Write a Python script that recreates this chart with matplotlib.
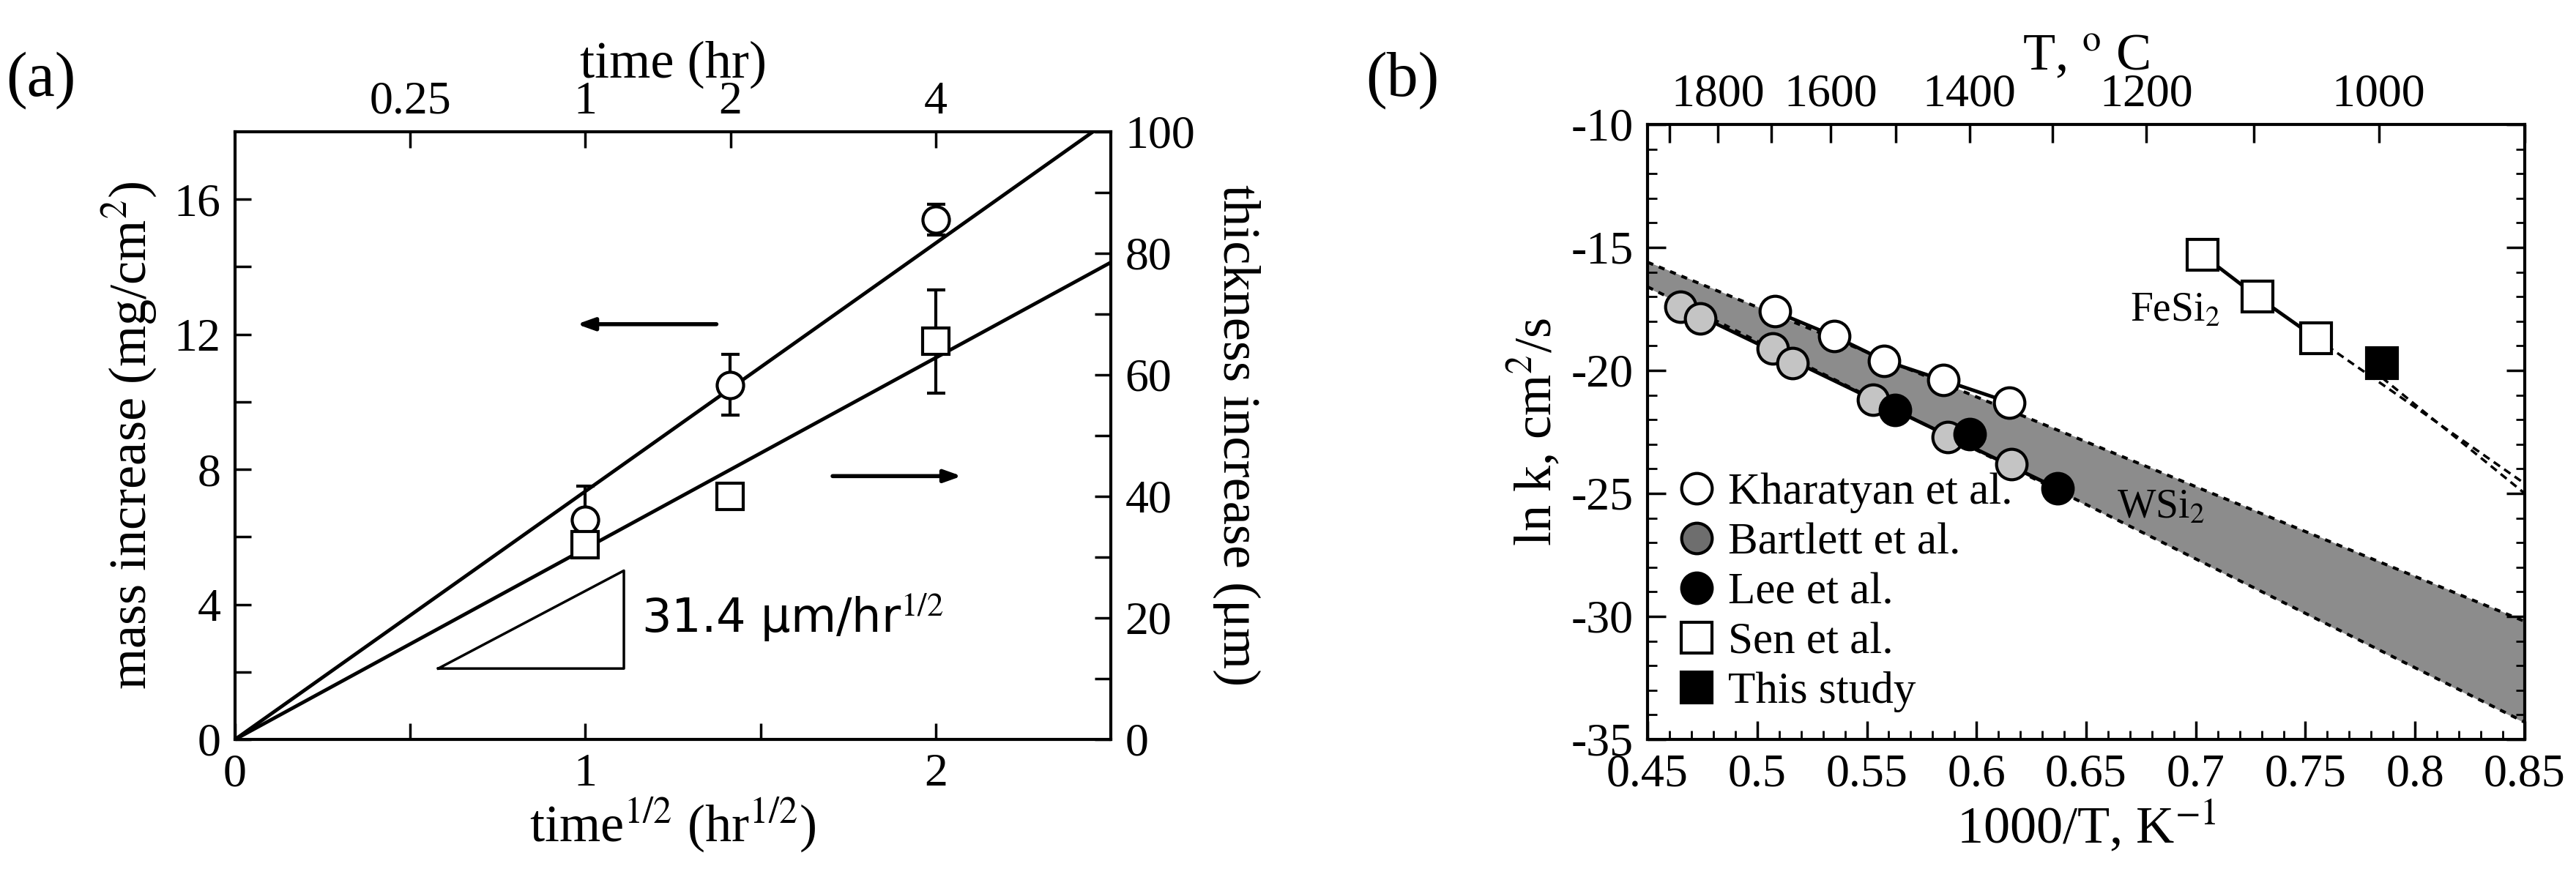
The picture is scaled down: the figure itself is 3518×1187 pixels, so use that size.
import numpy as np
import matplotlib.pyplot as plt

plt.rcParams["font.family"] = ["Liberation Serif", "DejaVu Serif"]
plt.rcParams["mathtext.fontset"] = "stix"
plt.rcParams["axes.unicode_minus"] = False

# ---- panel (a) data ----
mass_x = [1.0, 1.414, 2.0]
mass_y = [6.5, 10.5, 15.4]
mass_err = [1.0, 0.9, 0.45]
thick_x = [1.0, 1.414, 2.0]
thick_y = [32.0, 40.0, 65.5]
thick_err = [0.0, 0.0, 8.5]
mass_slope = 7.35
thick_slope = 31.4
top_ticks_hr = [0.25, 1, 2, 4]

# ---- panel (b) data ----
khar_x = [0.508, 0.535, 0.558, 0.585, 0.615]
khar_y = [-17.6, -18.6, -19.6, -20.4, -21.3]
gray_x = [0.465, 0.474, 0.507, 0.516, 0.553, 0.587, 0.616]
gray_y = [-17.4, -17.9, -19.1, -19.7, -21.2, -22.7, -23.8]
lee_x = [0.563, 0.597, 0.637]
lee_y = [-21.6, -22.6, -24.8]
sen_x = [0.703, 0.728, 0.755]
sen_y = [-15.3, -17.0, -18.7]
this_x = [0.785]
this_y = [-19.7]
band_x = [0.45, 0.85]
band_hi = [-15.6, -30.2]
band_lo = [-16.6, -34.3]
top_T = [1800, 1600, 1400, 1200, 1000]
top_T_minor = [1900, 1700, 1500, 1300, 1100, 900]

fig = plt.figure(figsize=(35.18, 11.87), dpi=100)
fs_tick = 46
fs_lab = 52
lw = 3.5

# ================= (a) =================
ax = fig.add_axes([321 / 3518, 1 - 1010 / 1187, (1517 - 321) / 3518, (1010 - 180) / 1187])
ax.set_xlim(0, 2.5)
ax.set_ylim(0, 18)
xx = np.array([0, 2.5])
ax.plot(xx, mass_slope * xx, color="black", lw=lw)
ax.errorbar(mass_x, mass_y, yerr=mass_err, fmt="o", ms=26, mfc="white", mec="black",
            mew=3, ecolor="black", elinewidth=3, capsize=9)
ax.set_xticks([0, 1, 2])
ax.set_xticks([0.5, 1.5], minor=True)
ax.set_yticks([0, 4, 8, 12, 16])
ax.set_yticks([2, 6, 10, 14], minor=True)
ax.tick_params(labelsize=fs_tick, direction="in", length=16, width=2.5, top=False, pad=14)
ax.tick_params(which="minor", direction="in", length=16, width=2.5)
ax.set_xlabel("time$^{1/2}$ (hr$^{1/2}$)", fontsize=fs_lab, labelpad=0)
ax.set_ylabel("mass increase (mg/cm$^2$)", fontsize=fs_lab, labelpad=14)
for s in ax.spines.values():
    s.set_linewidth(3)

ax2 = ax.twinx()
ax2.set_ylim(0, 100)
ax2.plot(xx, thick_slope * xx, color="black", lw=lw)
ax2.errorbar(thick_x, thick_y, yerr=thick_err, fmt="s", ms=26, mfc="white", mec="black",
             mew=3, ecolor="black", elinewidth=3, capsize=9)
ax2.set_yticks([0, 20, 40, 60, 80, 100])
ax2.set_yticks([10, 30, 50, 70, 90], minor=True)
ax2.tick_params(labelsize=fs_tick, direction="in", length=16, width=2.5, pad=14)
ax2.tick_params(which="minor", direction="in", length=16, width=2.5)
ax2.set_ylabel("thickness increase (μm)", fontsize=fs_lab, rotation=270, labelpad=64)

ax3 = ax.twiny()
ax3.set_xlim(0, 2.5)
ax3.set_xticks(np.sqrt(top_ticks_hr))
ax3.set_xticklabels(["0.25", "1", "2", "4"])
ax3.tick_params(labelsize=fs_tick, direction="in", length=16, width=2.5, pad=8)
ax3.set_xlabel("time (hr)", fontsize=fs_lab, labelpad=4)

# slope triangle and arrows
ax.plot([0.58, 1.11, 1.11, 0.58], [2.1, 2.1, 5.0, 2.1], color="black", lw=2.5)
ax.text(1.16, 3.6, "31.4 μm/hr$^{1/2}$", fontsize=fs_tick, family="DejaVu Sans", va="center")
ax.annotate("", xy=(0.97, 12.3), xytext=(1.38, 12.3),
            arrowprops=dict(arrowstyle="-|>,head_length=1.4,head_width=0.5", color="black", lw=4))
ax.annotate("", xy=(2.08, 7.8), xytext=(1.7, 7.8),
            arrowprops=dict(arrowstyle="-|>,head_length=1.4,head_width=0.5", color="black", lw=4))
fig.text(8 / 3518, 1 - 110 / 1187, "(a)", fontsize=62, va="center")

# ================= (b) =================
bx = fig.add_axes([2250 / 3518, 1 - 1010 / 1187, (3448 - 2250) / 3518, (1010 - 170) / 1187])
bx.set_xlim(0.45, 0.85)
bx.set_ylim(-35, -10)
bx.fill_between(band_x, band_lo, band_hi, color="#8c8c8c", zorder=1)
bx.plot(band_x, band_hi, color="black", ls=(0, (2, 2)), lw=3, zorder=2)
bx.plot(band_x, band_lo, color="black", ls=(0, (2, 2)), lw=3, zorder=2)
bx.plot(khar_x, khar_y, "-", color="black", lw=lw, zorder=3)
bx.plot([gray_x[0], lee_x[-1]], [gray_y[0], lee_y[-1]], "-", color="black", lw=lw, zorder=3)
bx.plot(khar_x, khar_y, "o", ms=30, mfc="white", mec="black", mew=3, zorder=4,
        label="Kharatyan et al.")
bx.plot(gray_x, gray_y, "o", ms=30, mfc="#c4c4c4", mec="black", mew=3, zorder=4)
bx.plot([], [], "o", ms=30, mfc="#6e6e6e", mec="black", mew=3, label="Bartlett et al.")
bx.plot(lee_x, lee_y, "o", ms=30, mfc="black", mec="black", mew=3, zorder=5, label="Lee et al.")
bx.plot(sen_x, sen_y, "-", color="black", lw=lw, zorder=3)
bx.plot([sen_x[-1], 0.85], [sen_y[-1], -24.6], color="black", ls=(0, (3, 2)), lw=2.5, zorder=3)
bx.plot([this_x[0], 0.85], [-20.3, -25.0], color="black", ls=(0, (3, 2)), lw=2.5, zorder=3)
bx.plot(sen_x, sen_y, "s", ms=30, mfc="white", mec="black", mew=3, zorder=4, label="Sen et al.")
bx.plot(this_x, this_y, "s", ms=30, mfc="black", mec="black", mew=3, zorder=4, label="This study")
bx.text(0.67, -18.0, "FeSi$_2$", fontsize=40)
bx.text(0.664, -26.0, "WSi$_2$", fontsize=40)
leg = bx.legend(loc="lower left", fontsize=44, frameon=False, handletextpad=0.2,
                labelspacing=0.2, borderaxespad=0.2, handlelength=1.0)

bx.set_xticks(np.arange(0.45, 0.851, 0.05))
bx.set_xticklabels(["0.45", "0.5", "0.55", "0.6", "0.65", "0.7", "0.75", "0.8", "0.85"])
bx.set_xticks(np.arange(0.45, 0.851, 0.01), minor=True)
bx.set_yticks(np.arange(-35, -9, 5))
bx.set_yticks(np.arange(-35, -9, 1), minor=True)
bx.tick_params(labelsize=fs_tick, direction="in", length=18, width=2.5, right=True, pad=14)
bx.tick_params(which="minor", direction="in", length=9, width=2, right=True)
bx.set_xlabel("1000/T, K$^{-1}$", fontsize=fs_lab, labelpad=2)
bx.set_ylabel("ln k, cm$^2$/s", fontsize=fs_lab, labelpad=8)
for s in bx.spines.values():
    s.set_linewidth(3)

bt = bx.twiny()
bt.set_xlim(0.45, 0.85)
bt.set_xticks([1000 / (T + 273) for T in top_T])
bt.set_xticklabels([str(T) for T in top_T])
bt.set_xticks([1000 / (T + 273) for T in top_T_minor], minor=True)
bt.tick_params(labelsize=fs_tick, direction="in", length=18, width=2.5, pad=8)
bt.tick_params(which="minor", direction="in", length=18, width=2.5)
bt.set_xlabel("T, $^{\\rm o}$ C", fontsize=fs_lab, labelpad=4)
fig.text(1865 / 3518, 1 - 110 / 1187, "(b)", fontsize=62, va="center")

fig.savefig("out.png", dpi=100)
